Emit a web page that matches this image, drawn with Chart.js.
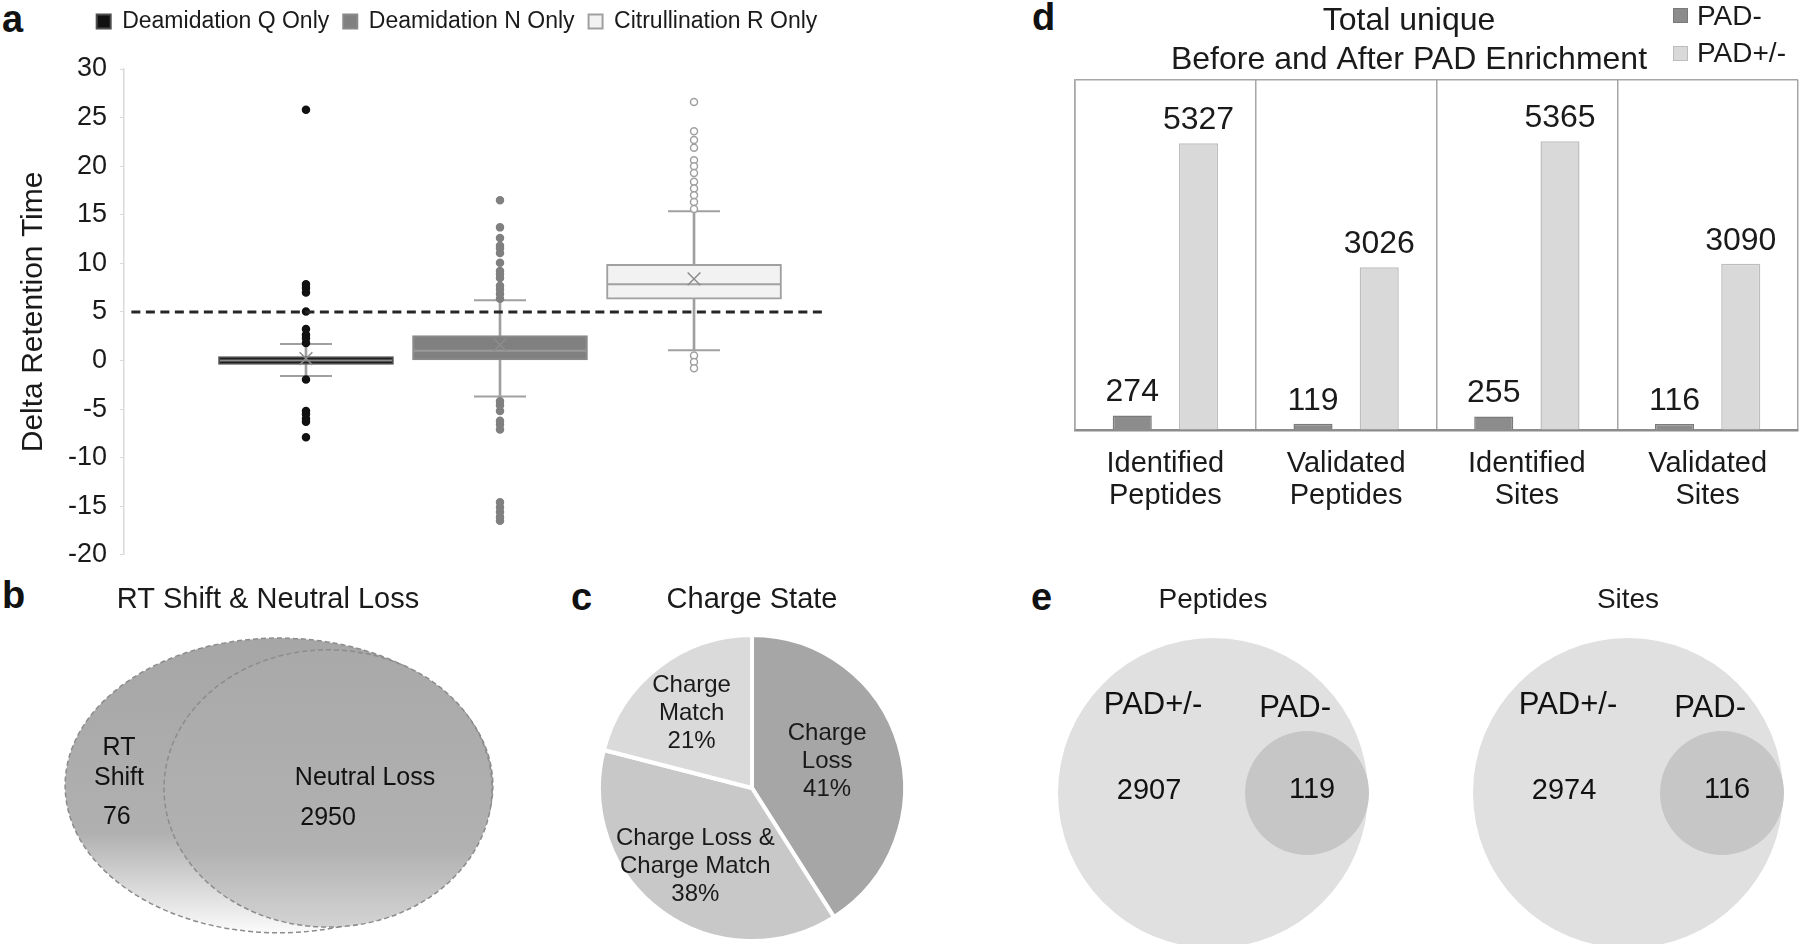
<!DOCTYPE html>
<html lang="en">
<head>
<meta charset="utf-8">
<title>RT shift, charge state and PAD enrichment</title>
<script src="https://cdn.jsdelivr.net/npm/chart.js@4.4.1/dist/chart.umd.min.js"></script>
<style>
  html, body { margin: 0; background: #fff; }
  body { position: relative; width: 1800px; height: 944px; overflow: hidden; font-family: "Liberation Sans", Arial, sans-serif; color: #1a1a1a; }
  .box { position: absolute; }
  .tag { position: absolute; font-weight: bold; font-size: 38px; line-height: 38px; color: #111; }
  #legendD { position: absolute; left: 1673px; top: -3px; font-size: 28px; }
  #legendD div { display: flex; align-items: center; height: 37.5px; }
  #legendD span { width: 15px; height: 15px; margin-right: 9px; box-sizing: border-box; border: 1px solid; }
</style>
</head>
<body>
<div class="tag" style="left:2px;top:0px">a</div>
<div class="tag" style="left:2px;top:576px">b</div>
<div class="tag" style="left:571px;top:578px">c</div>
<div class="tag" style="left:1032px;top:-2px">d</div>
<div class="tag" style="left:1031px;top:578px">e</div>

<div class="box" style="left:0;top:0;width:914px;height:584px"><canvas id="chartA"></canvas></div>
<div class="box" style="left:0;top:575px;width:536px;height:369px"><canvas id="chartB"></canvas></div>
<div class="box" style="left:560px;top:575px;width:384px;height:369px"><canvas id="chartC"></canvas></div>
<div class="box" style="left:1020px;top:0;width:780px;height:532px"><canvas id="chartD"></canvas></div>
<div id="legendD"></div>
<div class="box" style="left:1043px;top:575px;width:340px;height:369px"><canvas id="chartE1"></canvas></div>
<div class="box" style="left:1458px;top:575px;width:340px;height:369px"><canvas id="chartE2"></canvas></div>

<script>
const FONT = '"Liberation Sans", Arial, sans-serif';
Chart.defaults.font.family = FONT;
Chart.defaults.color = '#1a1a1a';
Chart.defaults.animation = false;
Chart.defaults.events = [];
Chart.defaults.plugins.legend.display = false;
Chart.defaults.plugins.tooltip.enabled = false;

/* a - delta retention time */
const rtGroups = ['Deamidation Q Only', 'Deamidation N Only', 'Citrullination R Only'];
const rtQ1 = [-0.4, 0, 6.3];
const rtMedian = [0, 1.0, 7.85];
const rtQ3 = [0.4, 2.55, 9.9];
const rtMean = [0.2, 1.6, 8.4];
const rtWhiskerLow = [-1.6, -3.7, 1.05];
const rtWhiskerHigh = [1.7, 6.2, 15.35];
const rtOutliersQ = [25.8, 7.85, 7.45, 7.0, 5.05, 3.25, 2.65, 2.3, 1.8, -1.95, -5.2, -5.5, -6.0, -6.3, -7.9];
const rtOutliersN = [16.5, 13.7, 12.6, 11.8, 11.55, 11.05, 10.05, 9.2, 8.9, 8.5, 7.7, 7.3, 6.85, 6.35,
  -4.2, -4.6, -5.2, -6.2, -6.6, -7.1, -14.6, -15.1, -15.6, -16.1, -16.5];
const rtOutliersR = [26.6, 23.6, 22.7, 21.9, 20.6, 20.0, 19.3, 18.4, 17.7, 17.0, 16.3, 15.6, 0.5, -0.15, -0.8];
const rtThreshold = 5;

/* b - RT shift vs neutral loss */
const overlapSets = ['RT Shift', 'Neutral Loss'];
const overlapCounts = [76, 2950];

/* c - charge state */
const chargeStates = ['Charge Loss', 'Charge Loss & Charge Match', 'Charge Match'];
const chargeShare = [41, 38, 21];

/* d - totals before/after enrichment */
const enrichCategories = [['Identified', 'Peptides'], ['Validated', 'Peptides'], ['Identified', 'Sites'], ['Validated', 'Sites']];
const padMinus = [274, 119, 255, 116];
const padPlusMinus = [5327, 3026, 5365, 3090];

/* e - overlap of PAD+/- and PAD- */
const vennSets = ['PAD+/-', 'PAD-'];
const peptideCounts = [2907, 119];
const siteCounts = [2974, 116];

/* ---------- plugins ---------- */

// keep the legend band at a fixed height
const legendBand = {
  id: 'legendBand',
  beforeInit(chart, args, opts) {
    const fit = chart.legend.fit;
    chart.legend.fit = function () {
      fit.call(this);
      this.height = opts.height;
    };
  }
};

const barLabels = {
  id: 'barLabels',
  afterDatasetsDraw(chart, args, opts) {
    const { ctx } = chart;
    ctx.save();
    ctx.font = opts.size + 'px ' + FONT;
    ctx.fillStyle = '#1a1a1a';
    ctx.textAlign = 'center';
    ctx.textBaseline = 'alphabetic';
    chart.data.datasets.forEach((ds, i) => {
      chart.getDatasetMeta(i).data.forEach((bar, j) => {
        ctx.fillText(ds.data[j], bar.x, bar.y - opts.gap);
      });
    });
    ctx.restore();
  }
};

const sliceLabels = {
  id: 'sliceLabels',
  afterDatasetsDraw(chart, args, opts) {
    const { ctx } = chart;
    const values = chart.data.datasets[0].data;
    ctx.save();
    ctx.font = opts.size + 'px ' + FONT;
    ctx.fillStyle = '#1a1a1a';
    ctx.textAlign = 'center';
    ctx.textBaseline = 'middle';
    chart.getDatasetMeta(0).data.forEach((arc, i) => {
      const p = arc.getProps(['x', 'y', 'startAngle', 'endAngle', 'outerRadius'], true);
      const mid = (p.startAngle + p.endAngle) / 2 + opts.shift[i] * Math.PI / 180;
      const r = p.outerRadius * opts.reach[i];
      const cx = p.x + Math.cos(mid) * r;
      const cy = p.y + Math.sin(mid) * r;
      const lines = opts.lines[i].concat(values[i] + '%');
      lines.forEach((t, k) => ctx.fillText(t, cx, cy + (k - (lines.length - 1) / 2) * opts.lineGap));
    });
    ctx.restore();
  }
};

const vennEllipses = {
  id: 'vennEllipses',
  afterDatasetsDraw(chart, args, opts) {
    const { ctx, scales: { x, y } } = chart;
    ctx.save();
    opts.shapes.forEach(s => {
      const cx = x.getPixelForValue(s.cx), cy = y.getPixelForValue(s.cy);
      const rx = Math.abs(x.getPixelForValue(s.cx + s.rx) - cx);
      const ry = Math.abs(y.getPixelForValue(s.cy + s.ry) - cy);
      const g = ctx.createLinearGradient(0, cy - ry, 0, cy + ry);
      s.stops.forEach(st => g.addColorStop(st[0], st[1]));
      ctx.beginPath();
      ctx.ellipse(cx, cy, rx, ry, 0, 0, Math.PI * 2);
      ctx.fillStyle = g;
      ctx.fill();
      ctx.setLineDash([5, 3]);
      ctx.lineWidth = 1.5;
      ctx.strokeStyle = '#8c8c8c';
      ctx.stroke();
    });
    ctx.setLineDash([]);
    ctx.fillStyle = '#111';
    ctx.textAlign = 'center';
    ctx.textBaseline = 'middle';
    ctx.font = opts.size + 'px ' + FONT;
    opts.text.forEach((t, i) => {
      t.lines.forEach((line, k) => ctx.fillText(line, x.getPixelForValue(t.at[0]), y.getPixelForValue(t.at[1] - k * t.step)));
      ctx.fillText(overlapCounts[i], x.getPixelForValue(t.countAt[0]), y.getPixelForValue(t.countAt[1]));
    });
    ctx.restore();
  }
};

const vennText = {
  id: 'vennText',
  afterDatasetsDraw(chart, args, opts) {
    const { ctx, scales: { x, y } } = chart;
    ctx.save();
    ctx.fillStyle = '#111';
    ctx.textAlign = 'center';
    ctx.textBaseline = 'middle';
    chart.data.datasets.forEach((ds, i) => {
      const cx = ds.data[0].x;
      ctx.font = opts.nameSize + 'px ' + FONT;
      ctx.fillText(ds.label, x.getPixelForValue(cx + opts.names[i][0]), y.getPixelForValue(opts.names[i][1]));
      ctx.font = opts.countSize + 'px ' + FONT;
      ctx.fillText(ds.total, x.getPixelForValue(cx + opts.counts[i][0]), y.getPixelForValue(opts.counts[i][1]));
    });
    ctx.restore();
  }
};

/* ---------- a: box plot ---------- */
const pos = rtGroups.map((g, i) => i + 1);
const boxFill = ['#111111', '#808080', '#f2f2f2'];
const boxEdge = ['#4d4d4d', '#8a8a8a', '#a0a0a0'];
const medianEdge = ['#8c8c8c', '#9a9a9a', '#a0a0a0'];
const whiskerColor = '#a0a0a0';

const boxSets = rtGroups.map((g, i) => ({
  type: 'bar',
  label: g,
  data: [{ x: pos[i], y: [rtQ1[i], rtQ3[i]] }],
  backgroundColor: boxFill[i],
  borderColor: boxEdge[i],
  borderWidth: 2,
  borderSkipped: false,
  barThickness: 175,
  grouped: false,
  order: 5
}));

function outlierSet(values, i, fill, edge) {
  return {
    type: 'scatter',
    label: rtGroups[i] + ' outliers',
    data: values.map(v => ({ x: pos[i], y: v })),
    pointRadius: 3.5,
    pointBackgroundColor: fill,
    pointBorderColor: edge,
    pointBorderWidth: 1.5,
    order: 2
  };
}

new Chart(document.getElementById('chartA'), {
  type: 'scatter',
  data: {
    datasets: [
      {
        type: 'line',
        label: 'threshold',
        data: [{ x: 0.1, y: rtThreshold }, { x: 3.675, y: rtThreshold }],
        borderColor: '#262626',
        borderWidth: 3,
        borderDash: [9, 5.5],
        pointRadius: 0,
        order: 1
      },
      outlierSet(rtOutliersQ, 0, '#111111', '#111111'),
      outlierSet(rtOutliersN, 1, '#808080', '#808080'),
      outlierSet(rtOutliersR, 2, '#ffffff', '#a0a0a0'),
      {
        type: 'scatter',
        label: 'mean',
        data: pos.map((x, i) => ({ x, y: rtMean[i] })),
        pointStyle: 'crossRot',
        pointRadius: 9,
        pointBorderColor: '#8c8c8c',
        pointBorderWidth: 1.5,
        order: 3
      },
      {
        type: 'scatter',
        label: 'median',
        data: pos.map((x, i) => ({ x, y: rtMedian[i] })),
        pointStyle: 'line',
        pointRadius: 86,
        pointBorderColor: medianEdge,
        pointBorderWidth: 2,
        order: 4
      },
      {
        type: 'scatter',
        label: 'caps',
        data: pos.flatMap((x, i) => [{ x, y: rtWhiskerLow[i] }, { x, y: rtWhiskerHigh[i] }]),
        pointStyle: 'line',
        pointRadius: 26,
        pointBorderColor: whiskerColor,
        pointBorderWidth: 2,
        order: 4
      },
      ...boxSets,
      {
        type: 'bar',
        label: 'whiskers',
        data: pos.map((x, i) => ({ x, y: [rtWhiskerLow[i], rtWhiskerHigh[i]] })),
        backgroundColor: whiskerColor,
        barThickness: 2,
        grouped: false,
        order: 10
      }
    ]
  },
  options: {
    responsive: true,
    maintainAspectRatio: false,
    layout: { autoPadding: false, padding: { left: 12, right: 12, top: -4, bottom: 20 } },
    scales: {
      x: { type: 'linear', min: 0.062, max: 4.072, offset: false, grid: { offset: false }, display: false },
      y: {
        min: -20,
        max: 30,
        beginAtZero: false,
        ticks: { stepSize: 5, font: { size: 27 }, color: '#1a1a1a', padding: 13 },
        grid: { drawOnChartArea: false, tickLength: 4, color: '#d9d9d9' },
        border: { color: '#d9d9d9', width: 1.5 },
        title: { display: true, text: 'Delta Retention Time', font: { size: 30 }, color: '#1a1a1a' },
        afterFit(scale) { scale.width = 112; }
      }
    },
    plugins: {
      legend: {
        display: true,
        position: 'top',
        labels: {
          font: { size: 23 },
          color: '#1a1a1a',
          boxWidth: 14,
          boxHeight: 14,
          padding: 14,
          filter: item => rtGroups.includes(item.text)
        }
      },
      legendBand: { height: 73 }
    }
  },
  plugins: [legendBand]
});

/* ---------- b: RT shift & neutral loss ---------- */
new Chart(document.getElementById('chartB'), {
  type: 'scatter',
  data: { datasets: [] },
  options: {
    responsive: true,
    maintainAspectRatio: false,
    layout: { autoPadding: false, padding: 0 },
    scales: {
      x: { min: 0, max: 100, display: false },
      y: { min: 0, max: 100, display: false }
    },
    plugins: {
      title: {
        display: true,
        text: 'RT Shift & Neutral Loss',
        font: { size: 29, weight: 'normal' },
        color: '#1a1a1a',
        padding: { top: 7.6, bottom: 24.6 }
      },
      vennEllipses: {
        size: 25,
        shapes: [
          { cx: 52.05, cy: 52.5, rx: 39.9, ry: 48.8, stops: [[0, '#a6a6a6'], [0.66, '#b0b0b0'], [1, '#fbfbfb']] },
          { cx: 61.2, cy: 51.5, rx: 30.6, ry: 45.9, stops: [[0, '#a9a9a9'], [0.72, '#b1b1b1'], [1, '#d4d4d4']] }
        ],
        text: [
          { lines: ['RT', 'Shift'], at: [22.2, 64.9], step: 9.9, countAt: [21.8, 42.1] },
          { lines: ['Neutral Loss'], at: [68.1, 55.0], step: 0, countAt: [61.2, 41.7] }
        ]
      }
    }
  },
  plugins: [vennEllipses]
});

/* ---------- c: charge state pie ---------- */
new Chart(document.getElementById('chartC'), {
  type: 'pie',
  data: {
    labels: chargeStates,
    datasets: [{
      data: chargeShare,
      backgroundColor: ['#a6a6a6', '#c8c8c8', '#dadada'],
      borderColor: '#ffffff',
      borderWidth: 4
    }]
  },
  options: {
    responsive: true,
    maintainAspectRatio: false,
    layout: { padding: { left: 37, right: 37, top: 0, bottom: 1 } },
    plugins: {
      title: {
        display: true,
        text: 'Charge State',
        font: { size: 29, weight: 'normal' },
        color: '#1a1a1a',
        padding: { top: 7.6, bottom: 15.6 }
      },
      sliceLabels: {
        size: 24,
        lineGap: 28,
        lines: [['Charge', 'Loss'], ['Charge Loss &', 'Charge Match'], ['Charge', 'Match']],
        shift: [-3, 0, -1],
        reach: [0.52, 0.63, 0.63]
      }
    }
  },
  plugins: [sliceLabels]
});

/* ---------- d: grouped bars ---------- */
const chartD = new Chart(document.getElementById('chartD'), {
  type: 'bar',
  data: {
    labels: enrichCategories,
    datasets: [
      { label: 'PAD-', data: padMinus, backgroundColor: '#8c8c8c', borderColor: '#7a7a7a', borderWidth: 1.5 },
      { label: 'PAD+/-', data: padPlusMinus, backgroundColor: '#d9d9d9', borderColor: '#bdbdbd', borderWidth: 1.5 }
    ]
  },
  options: {
    responsive: true,
    maintainAspectRatio: false,
    categoryPercentage: 0.733,
    barPercentage: 0.59,
    layout: { padding: { left: 0, right: 2, top: 0, bottom: 2 } },
    scales: {
      x: {
        grid: { offset: true, drawTicks: false, color: '#a6a6a6', lineWidth: 1.5 },
        border: { color: '#8c8c8c', width: 2.5 },
        ticks: { font: { size: 29, lineHeight: 1.1 }, color: '#1a1a1a', padding: 18, maxRotation: 0, autoSkip: false }
      },
      y: {
        min: 0,
        max: 6500,
        ticks: { display: false, stepSize: 6500 },
        grid: { drawTicks: false, color: '#a6a6a6', lineWidth: 1.5 },
        border: { color: '#a6a6a6', width: 1.5 },
        afterFit(scale) { scale.width = 55; }
      }
    },
    plugins: {
      title: {
        display: true,
        text: ['Total unique', 'Before and After PAD Enrichment'],
        font: { size: 32, weight: 'normal' },
        color: '#1a1a1a',
        padding: { top: 2.4, bottom: 0.8 }
      },
      barLabels: { size: 32, gap: 14 }
    }
  },
  plugins: [barLabels]
});

// legend for d sits beside the title, built from the chart's datasets
const legendD = document.getElementById('legendD');
chartD.data.datasets.forEach(ds => {
  const row = document.createElement('div');
  row.innerHTML = `<span style="background:${ds.backgroundColor};border-color:${ds.borderColor}"></span>${ds.label}`;
  legendD.appendChild(row);
});

/* ---------- e: nested circles ---------- */
const vennLayout = {
  x: [0, 0.553],
  r: [155, 62],
  fill: ['#e0e0e0', '#c6c6c6']
};

function vennChart(id, heading, counts) {
  return new Chart(document.getElementById(id), {
    type: 'bubble',
    data: {
      datasets: vennSets.map((name, i) => ({
        label: name,
        total: counts[i],
        data: [{ x: vennLayout.x[i], y: 0 }],
        radius: vennLayout.r[i],
        backgroundColor: vennLayout.fill[i],
        borderWidth: 0,
        clip: false,
        order: 2 - i
      }))
    },
    options: {
      responsive: true,
      maintainAspectRatio: false,
      layout: { autoPadding: false, padding: 0 },
      scales: {
        x: { type: 'linear', min: -1, max: 1, display: false },
        y: { type: 'linear', min: -1, max: 1, display: false }
      },
      plugins: {
        title: {
          display: true,
          text: heading,
          font: { size: 28, weight: 'normal' },
          color: '#1a1a1a',
          padding: { top: 8.2, bottom: 25.2 }
        },
        vennText: {
          nameSize: 31,
          countSize: 29,
          names: [[-0.353, 0.58], [-0.07, 0.56]],
          counts: [[-0.376, 0.01], [0.03, 0.02]]
        }
      }
    },
    plugins: [vennText]
  });
}

vennChart('chartE1', 'Peptides', peptideCounts);
vennChart('chartE2', 'Sites', siteCounts);
</script>
</body>
</html>
